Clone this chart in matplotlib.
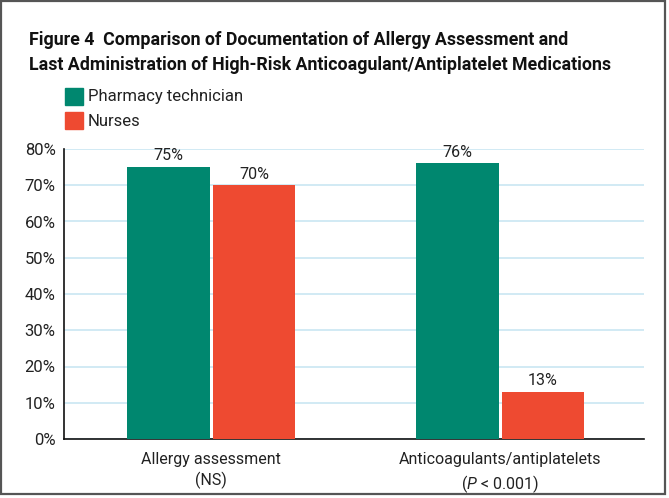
import matplotlib
matplotlib.use("Agg")
import matplotlib.pyplot as plt
from matplotlib.patches import Rectangle
import numpy as np

categories = ["Allergy assessment\n(NS)", "Anticoagulants/antiplatelets\n($\\it{P}$ < 0.001)"]
series_names = ["Pharmacy technician", "Nurses"]
pharm = [75, 76]
nurses = [70, 13]
yticks = [0, 10, 20, 30, 40, 50, 60, 70, 80]

green = "#00876f"
red = "#ee4a31"
grid_c = "#c9e6f2"

plt.rcParams['font.family'] = ["Roboto", "DejaVu Sans"]
plt.rcParams['mathtext.fontset'] = 'custom'
plt.rcParams['mathtext.it'] = 'Roboto:italic'
plt.rcParams['mathtext.rm'] = 'Roboto'

W, H = 669, 498
fig = plt.figure(figsize=(W/100, H/100), dpi=100)
ax = fig.add_axes([64/W, 1-439/H, (644-64)/W, (439-149)/H])

x = np.arange(len(categories))
bw = 0.287
gap = 0.005
ax.bar(x - bw/2 - gap, pharm, bw, color=green, zorder=3)
ax.bar(x + bw/2 + gap, nurses, bw, color=red, zorder=3)
for xi, v in zip(x, pharm):
    ax.text(xi - bw/2 - gap, v + 1, f"{v}%", ha="center", va="bottom", fontsize=11.5, color="#222")
for xi, v in zip(x, nurses):
    ax.text(xi + bw/2 + gap, v + 1, f"{v}%", ha="center", va="bottom", fontsize=11.5, color="#222")

ax.set_xlim(-0.509, 1.498)
ax.set_ylim(0, 80)
ax.set_yticks(yticks)
ax.set_yticklabels([f"{t}%" for t in yticks], fontsize=12, color="#222")
ax.set_xticks(x)
ax.set_xticklabels(categories, fontsize=11.5, color="#222", linespacing=1.4)
ax.tick_params(axis="y", length=0, pad=6)
ax.tick_params(axis="x", length=0, pad=9)
ax.yaxis.grid(True, color=grid_c, linewidth=1.2, zorder=0)
ax.set_axisbelow(True)
for s in ["top", "right"]:
    ax.spines[s].set_visible(False)
ax.spines["left"].set_color("#111")
ax.spines["bottom"].set_color("#111")
ax.spines["left"].set_linewidth(1.2)
ax.spines["bottom"].set_linewidth(1.2)

fig.text(29/W, 1-40/H, "Figure 4  Comparison of Documentation of Allergy Assessment and",
         fontsize=12.8, fontweight="bold", va="center", ha="left", color="#111")
fig.text(29/W, 1-65/H, "Last Administration of High-Risk Anticoagulant/Antiplatelet Medications",
         fontsize=12.8, fontweight="bold", va="center", ha="left", color="#111")

for i, (name, c) in enumerate(zip(series_names, [green, red])):
    y0 = 88 + i*24
    fig.patches.append(Rectangle((65/W, 1-(y0+17.5)/H), 18/W, 17.5/H, transform=fig.transFigure,
                                 color=c, figure=fig))
    fig.text(88/W, 1-(y0+9)/H, name, fontsize=12, va="center", ha="left", color="#222")

fig.patches.append(Rectangle((1/W, 1-494/H), 664/W, 493/H, transform=fig.transFigure,
                             fill=False, edgecolor="#555", linewidth=1.6, figure=fig))

fig.savefig("out.png", dpi=100)
